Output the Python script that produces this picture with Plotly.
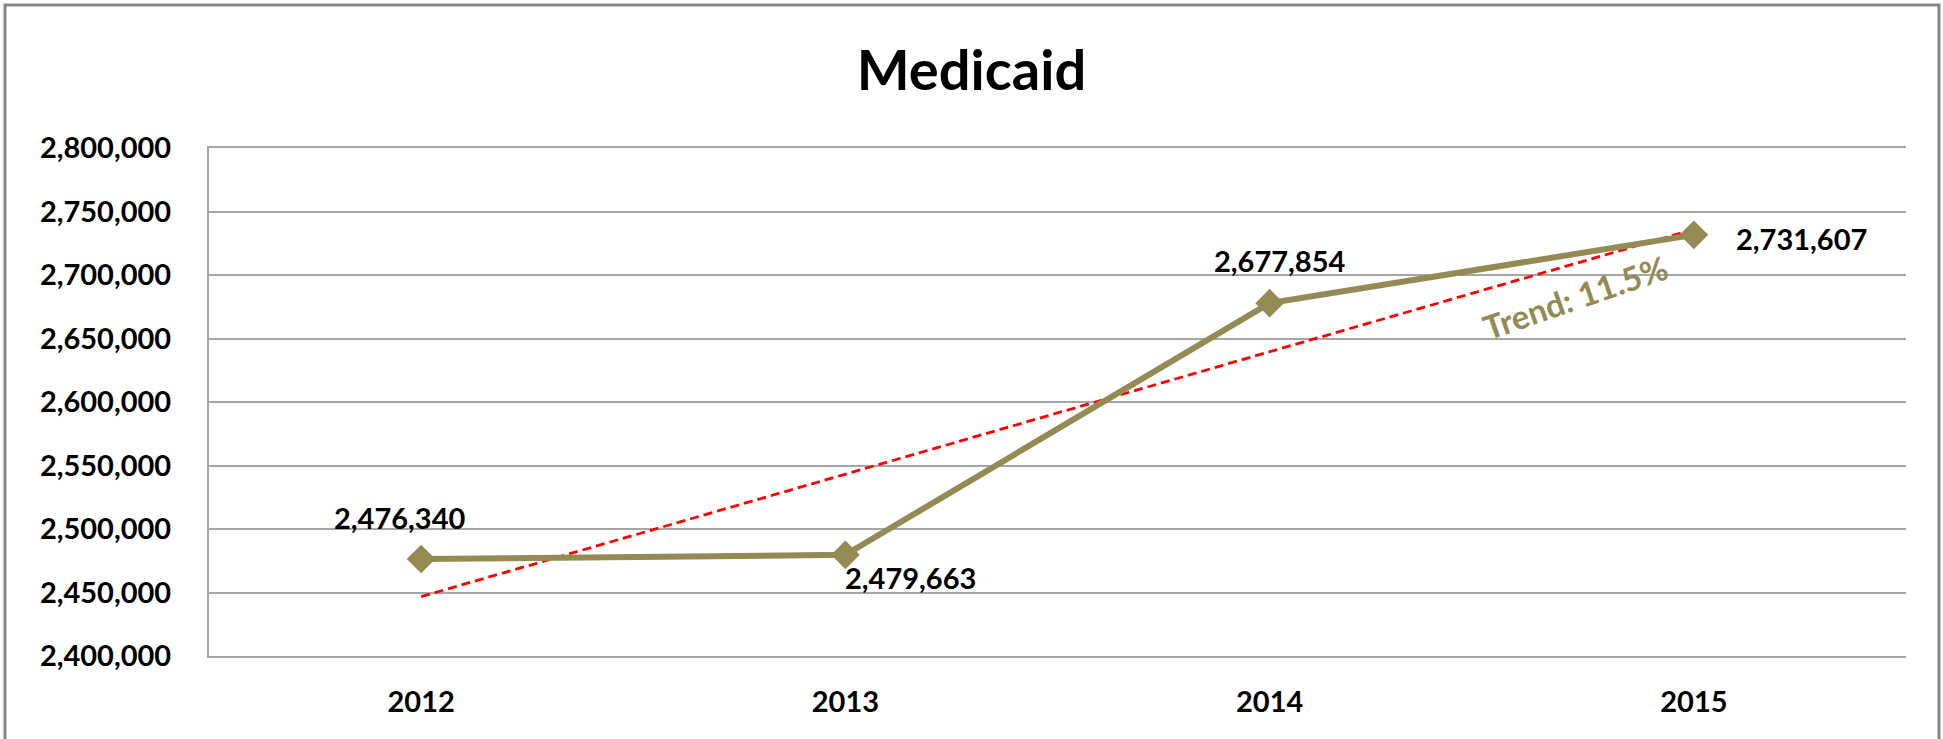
import numpy as np
import plotly.graph_objects as go

# ---- data ----
years = ["2012", "2013", "2014", "2015"]
enrollment = [2476340, 2479663, 2677854, 2731607]
trend_label = "Trend: 11.5%"
y_ticks = [2400000, 2450000, 2500000, 2550000, 2600000, 2650000, 2700000, 2750000, 2800000]

# ---- linear trend (least squares on the series) ----
xi = np.arange(len(years))
slope, intercept = np.polyfit(xi, enrollment, 1)
trend_vals = [float(intercept + slope * i) for i in xi]

OLIVE = "#948A54"
GRID = "#A6A6A6"
FONT = "Lato"

W, H = 1943, 739
L, R, T, B = 209, 37, 148, 83

fig = go.Figure()

fig.add_trace(go.Scatter(
    x=years, y=trend_vals, mode="lines",
    line=dict(color="#FF0000", width=2.8, dash="9px,5px"),
    hoverinfo="skip", showlegend=False,
))

fig.add_trace(go.Scatter(
    x=years, y=enrollment, mode="lines+markers",
    line=dict(color=OLIVE, width=6),
    marker=dict(symbol="diamond", size=22, color=OLIVE),
    showlegend=False,
))

# data labels (offsets in pixels)
label_style = [
    dict(xanchor="center", xshift=-22, yshift=42),
    dict(xanchor="left", xshift=-2, yshift=-23),
    dict(xanchor="center", xshift=10, yshift=43),
    dict(xanchor="left", xshift=40, yshift=-4),
]
for i, (v, st) in enumerate(zip(enrollment, label_style)):
    fig.add_annotation(
        x=i, y=v, text=f"{v:,}", showarrow=False,
        yanchor="middle", font=dict(family=FONT, size=29, color="black", weight="bold"),
        **st,
    )

fig.add_annotation(
    x=2.72, y=2683000, text=trend_label, showarrow=False, textangle=-19,
    xanchor="center", yanchor="middle",
    font=dict(family=FONT, size=33, color=OLIVE, weight="bold"),
)

# outer chart border
pw, ph = W - L - R, H - T - B
fig.add_shape(
    type="rect", xref="paper", yref="paper",
    x0=(5 - L) / pw, x1=(1939 - L) / pw,
    y0=(H - B - 760) / ph, y1=(H - B - 5) / ph,
    line=dict(color="#868686", width=3), fillcolor="rgba(0,0,0,0)", layer="below",
)

fig.update_layout(
    width=W, height=H,
    margin=dict(l=L, r=R, t=T, b=B),
    paper_bgcolor="white", plot_bgcolor="white",
    title=dict(text="<b>Medicaid</b>", x=0.5, xref="container", xanchor="center",
               y=1 - 70 / H, yref="container", yanchor="middle",
               font=dict(family=FONT, size=56, color="black")),
    font=dict(family=FONT),
)

fig.update_xaxes(
    type="category", range=[-0.5, 3.5],
    showgrid=False, showline=True, mirror=True, linecolor=GRID, linewidth=2,
    ticks="", ticklabelstandoff=19,
    tickfont=dict(family=FONT, size=29, color="black", weight="bold"),
    zeroline=False,
)
fig.update_yaxes(
    range=[2400000, 2800000], tickvals=y_ticks, tickformat=",d",
    showgrid=True, gridcolor=GRID, gridwidth=1.5,
    showline=True, linecolor=GRID, linewidth=2,
    ticks="", ticklabelstandoff=30,
    tickfont=dict(family=FONT, size=29, color="black", weight="bold"),
    zeroline=False,
)

fig.write_html("out.html", config={"displayModeBar": False},
               post_script="document.body.style.margin='0';")
